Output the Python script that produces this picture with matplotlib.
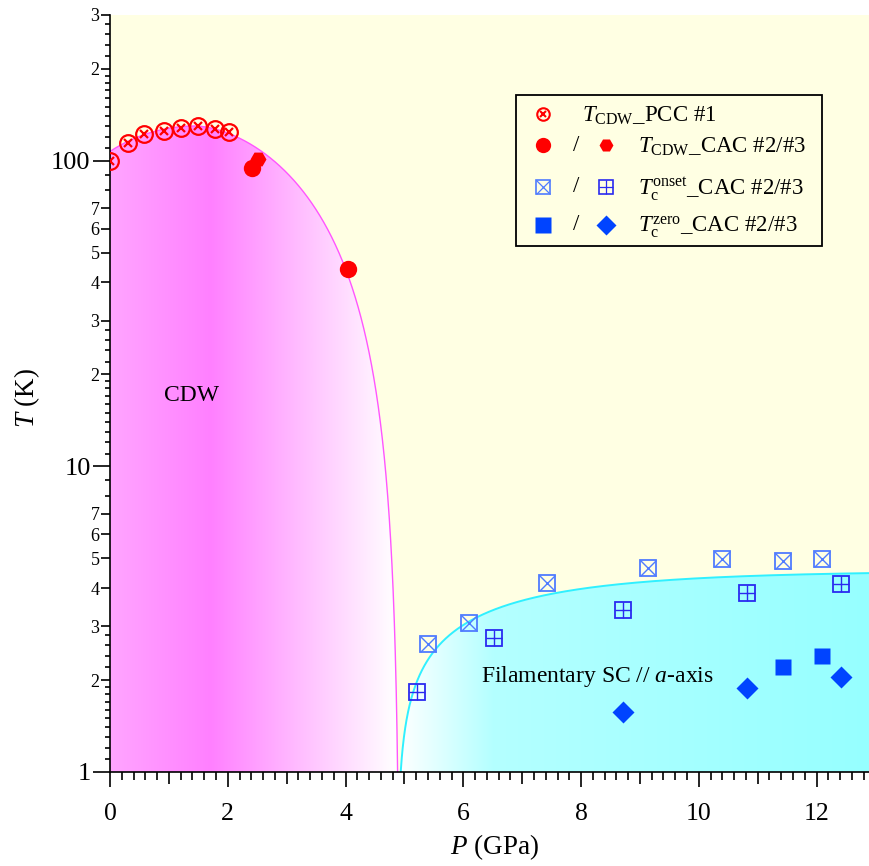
import numpy as np
import matplotlib
matplotlib.use("Agg")
import matplotlib.pyplot as plt
from matplotlib.patches import Polygon, Rectangle

plt.rcParams['font.family'] = ['Liberation Serif', 'DejaVu Serif']
plt.rcParams['mathtext.fontset'] = 'custom'
plt.rcParams['mathtext.rm'] = 'Liberation Serif'
plt.rcParams['mathtext.it'] = 'Liberation Serif:italic'

# --- data ---
# T_CDW, PCC #1 (open circle with cross)
p_cdw_pcc1 = [0.0, 0.30, 0.57, 0.92, 1.21, 1.50, 1.78, 2.02]
t_cdw_pcc1 = [99.5, 114.6, 122.1, 125.3, 127.7, 129.7, 126.8, 124.2]

# T_CDW, CAC #2 (filled circle) / #3 (hexagon)
p_cdw_cac2 = [2.41, 4.05]
t_cdw_cac2 = [94.5, 44.2]
p_cdw_cac3 = [2.52]
t_cdw_cac3 = [101.0]

# Tc onset, CAC #2 (boxed x) / #3 (boxed +)
p_on_cac2 = [5.40, 6.10, 7.42, 9.13, 10.39, 11.43, 12.09]
t_on_cac2 = [2.62, 3.07, 4.15, 4.65, 4.98, 4.90, 4.98]
p_on_cac3 = [5.21, 6.52, 8.71, 10.81, 12.41]
t_on_cac3 = [1.83, 2.74, 3.39, 3.85, 4.12]

# Tc zero, CAC #2 (square) / #3 (diamond)
p_zero_cac2 = [11.43, 12.09]
t_zero_cac2 = [2.21, 2.40]
p_zero_cac3 = [8.71, 10.81, 12.41]
t_zero_cac3 = [1.57, 1.88, 2.05]

# guide-to-the-eye phase boundaries
CDW_TMAX, CDW_P0, CDW_PC = 130.0, 1.45, 4.92
SC_TMAX, SC_PS, SC_W, SC_B = 4.55, 4.88, 2.5, 0.4

P_MAX = 12.89
T_MIN, T_MAX = 1, 300

# colour stops for the shading (P, rgb)
cdw_stops = [0.0, 1.7, 4.85]
cdw_cols = [(255, 165, 255), (255, 128, 255), (255, 255, 255)]
sc_stops = [4.9, 6.5, 12.9]
sc_cols = [(255, 255, 255), (180, 255, 255), (150, 255, 255)]

RED = '#FF0000'
BLUE_LIGHT = '#4F7BFF'
BLUE_DARK = '#2A2AF0'
BLUE = '#0044FF'
BG = '#FFFFE3'


def cdw_dome(p):
    u = (p - CDW_P0) / (CDW_PC - CDW_P0)
    left = CDW_TMAX * (1 - u ** 2)
    right = CDW_TMAX * np.clip(1 - np.abs(u) ** 1.7, 0, None) ** 1.2
    return np.where(u < 0, left, right)


def sc_dome(p):
    d = np.clip(p - SC_PS, 0, None)
    return SC_TMAX * (1 - np.exp(-d / SC_W)) ** SC_B


def gradient(stops, cols, n=1200):
    p = np.linspace(0, P_MAX, n)
    cols = np.array(cols) / 255.0
    rgb = np.stack([np.interp(p, stops, cols[:, k]) for k in range(3)], axis=-1)
    return rgb[np.newaxis, :, :]


def shade(ax, p, t, stops, cols):
    t = np.maximum(t, 0.5)
    verts = np.vstack([np.column_stack([p, t]), [[p[-1], 0.5], [p[0], 0.5]]])
    poly = Polygon(verts, closed=True, transform=ax.transData)
    im = ax.imshow(gradient(stops, cols), extent=[0, P_MAX, T_MIN, T_MAX],
                   aspect='auto', origin='lower', interpolation='bilinear', zorder=0.5)
    im.set_clip_path(poly)


fig = plt.figure(figsize=(8.69, 8.66), dpi=100)
ax = fig.add_axes([110 / 869, 94 / 866, 759 / 869, 757 / 866])
ax.set_facecolor(BG)
ax.set_yscale('log')

# domes
p_c = np.linspace(0, CDW_PC - 1e-4, 1500)
t_c = cdw_dome(p_c)
shade(ax, p_c, t_c, cdw_stops, cdw_cols)
ax.plot(p_c, t_c, color='#FF55FF', lw=1.0, zorder=1)

p_s = np.linspace(SC_PS, P_MAX, 1500)
t_s = sc_dome(p_s)
shade(ax, p_s, t_s, sc_stops, sc_cols)
ax.plot(p_s, t_s, color='#30F0FF', lw=1.4, zorder=1)

ax.set_xlim(0, P_MAX)
ax.set_ylim(T_MIN, T_MAX)

# data points
ax.plot(p_cdw_pcc1, t_cdw_pcc1, 'o', ms=12, mfc='none', mec=RED, mew=1.6, zorder=4)
ax.plot(p_cdw_pcc1, t_cdw_pcc1, 'x', ms=6, mec=RED, mew=1.6, zorder=4)
ax.plot(p_cdw_cac2, t_cdw_cac2, 'o', ms=12.5, color=RED, mec='none', zorder=4)
ax.plot(p_cdw_cac3, t_cdw_cac3, 'H', ms=11.5, color=RED, mec='none', zorder=4)

ax.plot(p_on_cac2, t_on_cac2, 's', ms=12, mfc='none', mec=BLUE_LIGHT, mew=1.3, zorder=4)
ax.plot(p_on_cac2, t_on_cac2, 'x', ms=12, mec=BLUE_LIGHT, mew=1.0, zorder=4)
ax.plot(p_on_cac3, t_on_cac3, 's', ms=12, mfc='none', mec=BLUE_DARK, mew=1.3, zorder=4)
ax.plot(p_on_cac3, t_on_cac3, '+', ms=12, mec=BLUE_DARK, mew=1.0, zorder=4)

ax.plot(p_zero_cac2, t_zero_cac2, 's', ms=12, color=BLUE, mec='none', zorder=4)
ax.plot(p_zero_cac3, t_zero_cac3, 'D', ms=11.5, color=BLUE, mec='none', zorder=4)

ax.text(1.39, 17.1, 'CDW', ha='center', va='center', fontsize=17, zorder=5)
ax.text(8.27, 2.06, r'Filamentary SC // $a$-axis', ha='center', va='center',
        fontsize=17, zorder=5)

# --- legend (drawn by hand: two symbols per row) ---
lx0, lx1, ly0, ly1 = 0.535, 0.938, 0.695, 0.894
ax.add_patch(Rectangle((lx0, ly0), lx1 - lx0, ly1 - ly0, transform=ax.transAxes,
                       facecolor=BG, edgecolor='black', lw=1.3, zorder=6, clip_on=False))
rows = [0.869, 0.828, 0.773, 0.7226]
c1, cs, c2 = 0.5705, 0.614, 0.6535
kw = dict(transform=ax.transAxes, clip_on=False, zorder=7)
ax.plot(c1, rows[0], 'o', ms=9, mfc='none', mec=RED, mew=1.5, **kw)
ax.plot(c1, rows[0], 'x', ms=4, mec=RED, mew=1.5, **kw)
ax.plot(c1, rows[1], 'o', ms=11, color=RED, mec='none', **kw)
ax.plot(c2, rows[1], 'H', ms=10, color=RED, mec='none', **kw)
ax.plot(c1, rows[2], 's', ms=9.5, mfc='none', mec=BLUE_LIGHT, mew=1.2, **kw)
ax.plot(c1, rows[2], 'x', ms=9.5, mec=BLUE_LIGHT, mew=0.9, **kw)
ax.plot(c2, rows[2], 's', ms=9.5, mfc='none', mec=BLUE_DARK, mew=1.2, **kw)
ax.plot(c2, rows[2], '+', ms=9.5, mec=BLUE_DARK, mew=0.9, **kw)
ax.plot(c1, rows[3], 's', ms=11, color=BLUE, mec='none', **kw)
ax.plot(c2, rows[3], 'D', ms=10, color=BLUE, mec='none', **kw)
for r in rows[1:]:
    ax.text(cs, r, '/', ha='center', va='center', fontsize=16.5, **kw)
labels = [r'$T_{\mathrm{CDW}}$_PCC #1', r'$T_{\mathrm{CDW}}$_CAC #2/#3',
          r'$T_{\mathrm{c}}^{\mathrm{onset}}$_CAC #2/#3',
          r'$T_{\mathrm{c}}^{\mathrm{zero}}$_CAC #2/#3']
text_x = [0.6219, 0.6957, 0.6957, 0.6957]
for r, lab, tx in zip(rows, labels, text_x):
    ax.text(tx, r - 0.0095, lab, ha='left', va='baseline', fontsize=16.5, **kw)

# --- axes, ticks ---
for s in ['top', 'right']:
    ax.spines[s].set_visible(False)
for s in ['left', 'bottom']:
    ax.spines[s].set_linewidth(1.2)

ax.set_xticks(np.arange(0, 13, 2))
ax.set_xticks(np.round(np.arange(0.2, P_MAX, 0.2), 1), minor=True)

decades = [1, 10, 100]
mid = [m * d for d in decades for m in (2, 3, 4, 5, 6, 7) if m * d <= T_MAX]
small = [m * d for d in decades
         for m in (1.1, 1.2, 1.3, 1.4, 1.5, 1.6, 1.7, 1.8, 1.9, 2.2, 2.4, 2.6, 2.8, 8, 9)
         if m * d < T_MAX]
minor_locs = sorted(mid + small)
minor_labels = [f'{loc / 10 ** np.floor(np.log10(loc)):.0f}' if loc in mid else ''
                for loc in minor_locs]
ax.set_yticks(decades, labels=[str(d) for d in decades])
ax.set_yticks(minor_locs, labels=minor_labels, minor=True)

ax.tick_params(axis='x', which='major', length=11, width=1.2, pad=11, labelsize=18.5)
ax.tick_params(axis='x', which='minor', length=6, width=1.2)
ax.tick_params(axis='y', which='major', length=12.5, width=1.2, pad=1.5, labelsize=19)
ax.tick_params(axis='y', which='minor', length=6.5, width=1.2, pad=1, labelsize=13)

xlocs = ax.xaxis.get_minorticklocs()
for loc, tick in zip(xlocs, ax.xaxis.get_minor_ticks(len(xlocs))):
    if np.isclose(loc, round(loc)):
        tick.tick1line.set_markersize(8.5)
ylocs = ax.yaxis.get_minorticklocs()
for loc, tick in zip(ylocs, ax.yaxis.get_minor_ticks(len(ylocs))):
    if np.any(np.isclose(loc, small)):
        tick.tick1line.set_markersize(3.5)

ax.set_xlabel(r'$P$ (GPa)', fontsize=19.5)
ax.set_ylabel(r'$T$ (K)', fontsize=19.5)
ax.xaxis.set_label_coords(0.506, -0.08)
ax.yaxis.set_label_coords(-0.089, 0.494)

fig.savefig('out.png', dpi=100, facecolor='white')
